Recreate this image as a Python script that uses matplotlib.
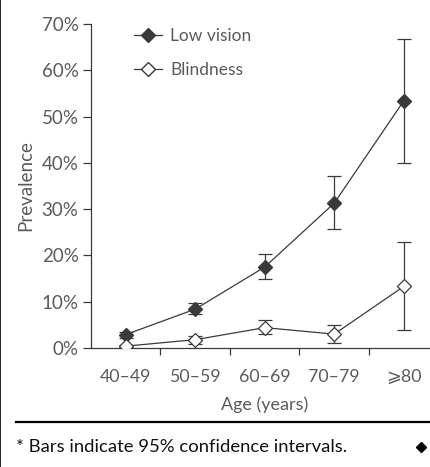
import matplotlib
matplotlib.use("Agg")
import matplotlib.pyplot as plt
from matplotlib.lines import Line2D
from matplotlib.ticker import FixedLocator

categories = ["40\u201349", "50\u201359", "60\u201369", "70\u201379", "\u2a7e80"]
low_vision = [2.9, 8.4, 17.5, 31.3, 53.4]
low_vision_lo = [2.2, 7.4, 14.9, 25.7, 39.9]
low_vision_hi = [3.5, 9.8, 20.3, 37.2, 66.7]
blindness = [0.4, 1.8, 4.4, 3.0, 13.3]
blindness_lo = [0.2, 0.9, 3.1, 1.1, 3.8]
blindness_hi = [0.7, 2.6, 6.0, 5.0, 22.8]
yticks = [0, 10, 20, 30, 40, 50, 60, 70]

plt.rcParams['font.family'] = ['Lato', 'DejaVu Sans']
TXT = '#5a5a5a'
LC = '#3a3a3a'

W, H = 431, 467
fig = plt.figure(figsize=(W / 100, H / 100), dpi=100)
ax = fig.add_axes([91 / W, 119 / H, 347.5 / W, 324 / H])

x = list(range(len(categories)))
lv_err = [[v - l for v, l in zip(low_vision, low_vision_lo)],
          [h - v for v, h in zip(low_vision, low_vision_hi)]]
bl_err = [[v - l for v, l in zip(blindness, blindness_lo)],
          [h - v for v, h in zip(blindness, blindness_hi)]]

ax.errorbar(x, low_vision, yerr=lv_err, color=LC, lw=0.9, marker='D', ms=7.5,
            mfc='#3a3a3a', mec='#3a3a3a', capsize=4.8, elinewidth=0.9,
            capthick=0.9, label='Low vision', zorder=3)
ax.errorbar(x, blindness, yerr=bl_err, color=LC, lw=0.9, marker='D', ms=7.5,
            mfc='white', mec='#3a3a3a', mew=0.9, capsize=4.8, elinewidth=0.9,
            capthick=0.9, label='Blindness', zorder=3)

ax.set_xlim(-0.5, 4.5)
ax.set_ylim(0, 70)
ax.set_yticks(yticks)
ax.set_yticklabels([f"{v}%" for v in yticks])
ax.set_xticks(x)
ax.set_xticklabels(categories)
ax.xaxis.set_minor_locator(FixedLocator([0.5, 1.5, 2.5, 3.5]))
ax.tick_params(axis='x', which='major', length=0, pad=15, labelsize=12.8, colors=TXT)
ax.tick_params(axis='x', which='minor', length=5, width=0.9, color=LC)
ax.tick_params(axis='y', length=6, width=0.9, color=LC, labelsize=13.5,
               labelcolor=TXT, pad=3)
for s in ['top', 'right']:
    ax.spines[s].set_visible(False)
for s in ['left', 'bottom']:
    ax.spines[s].set_color(LC)
    ax.spines[s].set_linewidth(0.9)

ax.set_xlabel("Age (years)", fontsize=13, color=TXT, labelpad=8)
ax.set_ylabel("Prevalence", fontsize=13.5, color=TXT, labelpad=5)

handles = [Line2D([], [], color=LC, lw=0.9, marker='D', ms=7.5, mfc='#3a3a3a', mec='#3a3a3a'),
           Line2D([], [], color=LC, lw=0.9, marker='D', ms=7.5, mfc='white', mec='#3a3a3a')]
leg = ax.legend(handles, ['Low vision', 'Blindness'], loc='upper left',
                bbox_to_anchor=(0.078, 1.035), frameon=False, fontsize=12.5,
                handlelength=1.6, labelspacing=1.0, handletextpad=0.5)
for t in leg.get_texts():
    t.set_color(TXT)

# frame lines and footnote
fig.add_artist(Line2D([0.5 / W, 0.5 / W], [0, 1], color='black', lw=1.2,
                      transform=fig.transFigure))
fig.add_artist(Line2D([16 / W, 1.0], [1 - 421.5 / H, 1 - 421.5 / H], color='black',
                      lw=1.6, transform=fig.transFigure))
fig.text(16 / W, 1 - 447 / H, "* Bars indicate 95% confidence intervals.",
         fontsize=13.3, color='#111111', va='center', ha='left')
fig.add_artist(Line2D([421.5 / W], [1 - 447 / H], marker='D', ms=5.5, color='black',
                      lw=0, transform=fig.transFigure))

fig.savefig("out.png", dpi=100)
